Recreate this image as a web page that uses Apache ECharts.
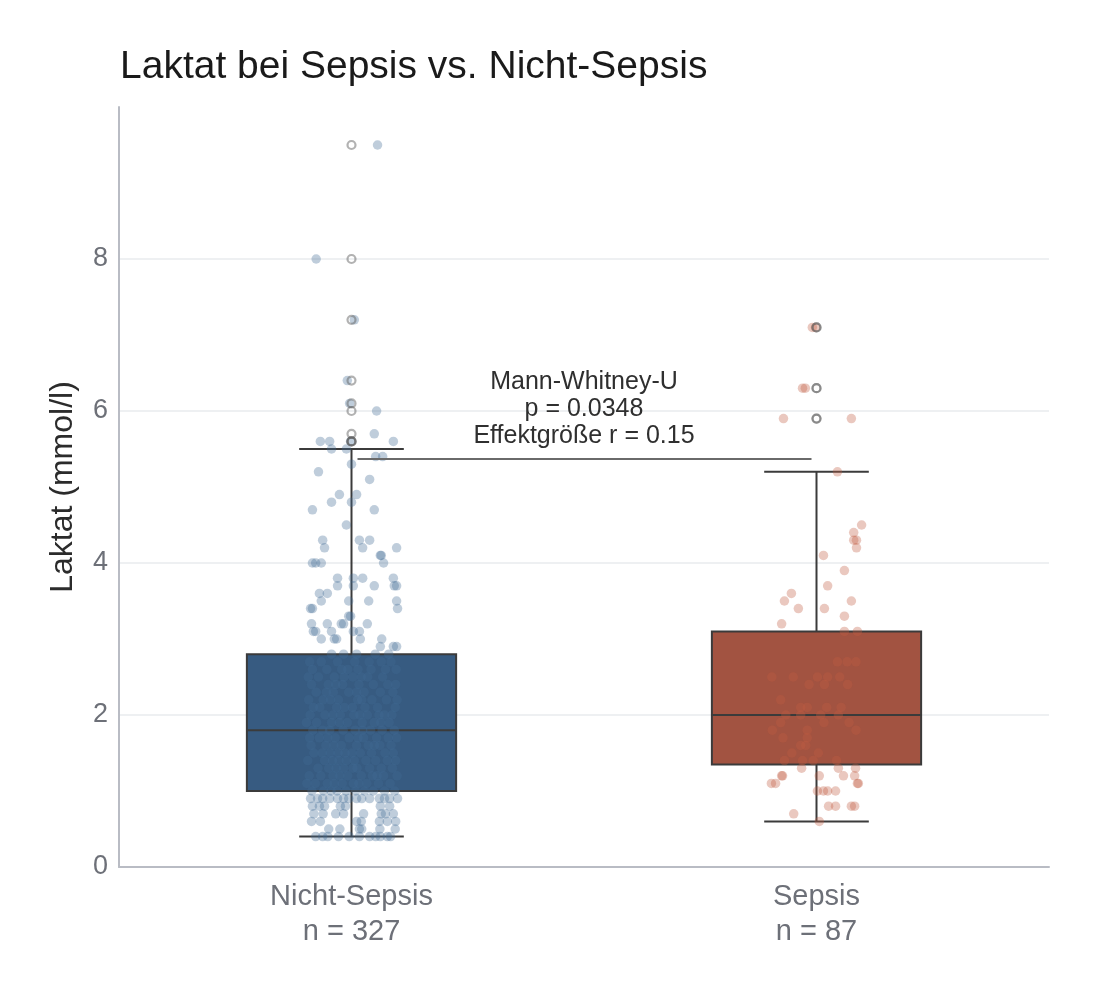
<!DOCTYPE html>
<html>
<head>
<meta charset="utf-8">
<script src="https://cdn.jsdelivr.net/npm/echarts@6/dist/echarts.min.js"></script>
<style>
    html, body { margin: 0; padding: 0; background: #fff; }
    #chart { width: 1098px; height: 996px; }
</style>
</head>
<body>
<div id="chart"></div>
<script>
// categories + group sizes
const groups = ['Nicht-Sepsis', 'Sepsis']
const groupN = [327, 87]
const yTicks = [0, 2, 4, 6, 8]

// [lower whisker, Q1, median, Q3, upper whisker]
const boxStats = [
    [0.4, 1.0, 1.8, 2.8, 5.5],
    [0.6, 1.35, 2.0, 3.1, 5.2]
]
const outliersNicht = [5.6, 5.6, 5.6, 5.7, 6.0, 6.1, 6.4, 7.2, 8.0, 9.5]
const outliersSepsis = [5.9, 5.9, 6.3, 6.3, 7.1, 7.1]

// strip points: [value, jitter offsets (category units)]
const stripNicht = [
    [9.5, [0.056]],
    [8.0, [-0.076]],
    [7.2, [0.006]],
    [6.4, [-0.009]],
    [6.1, [-0.004]],
    [6.0, [0.054]],
    [5.7, [0.049]],
    [5.6, [-0.067, -0.047, 0.090, -0.002]],
    [5.5, [-0.043, -0.011]],
    [5.4, [0.052, 0.067]],
    [5.3, [0.0]],
    [5.2, [-0.071]],
    [5.1, [0.039]],
    [4.9, [-0.026, 0.011]],
    [4.8, [-0.043, 0.0]],
    [4.7, [-0.084, 0.049]],
    [4.5, [-0.011]],
    [4.3, [-0.062, 0.017, 0.039]],
    [4.2, [-0.058, 0.024, 0.097]],
    [4.1, [0.062, 0.064]],
    [4.0, [0.069, -0.084, -0.077, -0.065]],
    [3.8, [-0.030, 0.004, 0.024, 0.090]],
    [3.7, [-0.030, 0.004, 0.049, 0.092, 0.097]],
    [3.6, [-0.069, -0.052]],
    [3.5, [-0.065, -0.006, 0.037, 0.097]],
    [3.4, [-0.088, -0.084, 0.099]],
    [3.3, [-0.006, -0.002]],
    [3.2, [-0.086, -0.052, -0.022, -0.017, 0.034]],
    [3.1, [-0.082, -0.077, -0.043, 0.004, 0.017]],
    [3.0, [-0.065, -0.037, -0.032, 0.019, 0.065]],
    [2.9, [0.062, 0.090, 0.097]],
    [2.8, [-0.043, -0.017, 0.011, 0.051, 0.080]],
    [2.7, [-0.065, -0.030, 0.007, 0.038, 0.064, -0.090, 0.085]],
    [2.6, [-0.084, -0.053, -0.021, 0.014, 0.042, 0.073, 0.096, -0.008]],
    [2.5, [-0.071, -0.037, 0.003, 0.035, 0.067, -0.093, 0.021, -0.016]],
    [2.4, [-0.086, -0.050, -0.019, 0.016, 0.047, 0.078, -0.034, 0.095]],
    [2.3, [-0.076, -0.039, -0.006, 0.027, 0.062, 0.089, -0.054, 0.011]],
    [2.2, [-0.092, -0.061, -0.028, 0.013, 0.044, 0.075, -0.045, 0.098, 0.022]],
    [2.1, [-0.068, -0.032, 0.002, 0.029, 0.056, 0.094, -0.082, -0.015]],
    [2.0, [-0.089, -0.057, -0.024, 0.005, 0.034, 0.059, 0.087, -0.040, 0.018, 0.071]],
    [1.9, [-0.075, -0.043, -0.009, 0.023, 0.049, 0.081, -0.097, -0.026, 0.063]],
    [1.8, [-0.083, -0.047, -0.018, 0.008, 0.041, 0.066, 0.092, -0.062, 0.024]],
    [1.7, [-0.069, -0.035, -0.005, 0.026, 0.054, 0.079, -0.090, 0.097, -0.051, 0.014]],
    [1.6, [-0.087, -0.055, -0.022, 0.011, 0.036, 0.061, 0.085, -0.038, 0.049]],
    [1.5, [-0.081, -0.046, -0.014, 0.019, 0.043, 0.072, -0.063, 0.090, 0.001, -0.029]],
    [1.4, [-0.094, -0.058, -0.027, 0.006, 0.031, 0.077, -0.041, 0.052, 0.095, -0.011]],
    [1.3, [-0.072, -0.049, -0.017, 0.012, 0.039, 0.064, 0.088, -0.033, 0.003]],
    [1.2, [-0.091, -0.066, -0.040, -0.008, 0.021, 0.045, 0.069, 0.098, -0.025, 0.055]],
    [1.1, [-0.078, -0.052, -0.020, 0.004, 0.033, 0.058, 0.083, -0.096, 0.016, -0.037]],
    [1.0, [-0.085, -0.060, -0.031, -0.012, 0.009, 0.028, 0.047, 0.071, 0.093, -0.044]],
    [0.9, [-0.088, -0.073, -0.062, -0.047, -0.030, -0.017, -0.006, 0.011, 0.022, 0.039, 0.060, 0.071, 0.082, 0.099]],
    [0.8, [-0.084, -0.069, -0.058, -0.024, -0.013, 0.062, 0.082]],
    [0.7, [-0.081, -0.061, -0.034, -0.017, 0.026, 0.064, 0.073, 0.090]],
    [0.6, [-0.086, -0.067, 0.011, 0.021, 0.060, 0.077, 0.095]],
    [0.5, [-0.049, -0.025, 0.017, 0.022, 0.061, 0.094]],
    [0.4, [-0.077, -0.062, -0.051, -0.028, -0.005, 0.017, 0.039, 0.052, 0.062, 0.077, 0.084]]
]
const stripSepsis = [
    [7.1, [-0.009, -0.002]],
    [6.3, [-0.030, -0.024]],
    [5.9, [-0.071, 0.075]],
    [5.2, [0.045]],
    [4.5, [0.097]],
    [4.4, [0.080]],
    [4.3, [0.080, 0.086]],
    [4.2, [0.086]],
    [4.1, [0.015]],
    [3.9, [0.060]],
    [3.7, [0.024]],
    [3.6, [-0.054]],
    [3.5, [-0.069, 0.075]],
    [3.4, [-0.039, 0.017]],
    [3.3, [0.060]],
    [3.2, [-0.075]],
    [3.1, [0.060, 0.088]],
    [2.7, [0.045, 0.066, 0.085]],
    [2.5, [-0.096, -0.050, 0.002, 0.024, 0.050]],
    [2.4, [-0.016, 0.017, 0.067]],
    [2.2, [-0.077]],
    [2.1, [-0.034, -0.020, 0.022, 0.053]],
    [2.0, [-0.066, -0.034, 0.009, 0.047]],
    [1.9, [-0.077, 0.016, 0.070]],
    [1.8, [-0.095, -0.020, 0.085]],
    [1.7, [-0.072, -0.020]],
    [1.6, [-0.034, -0.023]],
    [1.5, [-0.053, 0.004]],
    [1.4, [-0.069, -0.030, -0.007, 0.043]],
    [1.3, [-0.032, 0.047, 0.084]],
    [1.2, [-0.075, -0.073, 0.006, 0.058, 0.082]],
    [1.1, [-0.097, -0.088, 0.088, 0.090]],
    [1.0, [0.002, 0.015, 0.024, 0.041]],
    [0.8, [0.026, 0.041, 0.075, 0.082]],
    [0.7, [-0.049]],
    [0.6, [0.006]]
]

// statistical test annotation
const testLines = ['Mann-Whitney-U', 'p = 0.0348', 'Effektgröße r = 0.15']
const bracketY = 5.37

const boxColors = ['#375b81', '#a25341']
const pointColors = ['rgba(64,106,148,0.42)', 'rgba(193,91,66,0.42)']
const FONT = 'Liberation Sans, Arial, sans-serif'

function stripData(rows, g) {
    let out = []
    rows.forEach(r => r[1].forEach(off => out.push([g + off, r[0]])))
    return out
}

function renderBox(params, api) {
    const c = api.value(0)
    const lo = api.coord([c, api.value(1)])
    const q1 = api.coord([c, api.value(2)])
    const med = api.coord([c, api.value(3)])
    const q3 = api.coord([c, api.value(4)])
    const hi = api.coord([c, api.value(5)])
    const half = api.size([1, 0])[0] * 0.225
    const cap = half / 2
    const x = lo[0]
    const ln = () => ({ stroke: '#3b3b3b', lineWidth: 2 })
    return {
        type: 'group',
        children: [
            { type: 'line', shape: { x1: x, y1: lo[1], x2: x, y2: q1[1] }, style: ln() },
            { type: 'line', shape: { x1: x, y1: q3[1], x2: x, y2: hi[1] }, style: ln() },
            { type: 'line', shape: { x1: x - cap, y1: lo[1], x2: x + cap, y2: lo[1] }, style: ln() },
            { type: 'line', shape: { x1: x - cap, y1: hi[1], x2: x + cap, y2: hi[1] }, style: ln() },
            {
                type: 'rect',
                shape: { x: x - half, y: q3[1], width: half * 2, height: q1[1] - q3[1] },
                style: { fill: boxColors[params.dataIndex], stroke: '#3b3b3b', lineWidth: 2 }
            },
            { type: 'line', shape: { x1: x - half, y1: med[1], x2: x + half, y2: med[1] }, style: ln() }
        ]
    }
}

function renderBracket(params, api) {
    const a = api.coord([api.value(0), api.value(2)])
    const b = api.coord([api.value(1), api.value(2)])
    return {
        type: 'group',
        children: [
            {
                type: 'line',
                shape: { x1: a[0] + 6, y1: a[1], x2: b[0] - 5, y2: b[1] },
                style: { stroke: '#6a6a6a', lineWidth: 2 }
            },
            {
                type: 'text',
                x: (a[0] + b[0]) / 2,
                y: a[1] - 9,
                style: {
                    text: testLines.join('\n'),
                    align: 'center',
                    verticalAlign: 'bottom',
                    fontFamily: FONT,
                    fontSize: 25,
                    lineHeight: 27,
                    fill: '#2f2f2f'
                }
            }
        ]
    }
}

let myChart = echarts.init(document.getElementById('chart'))
let option = {
    animation: false,
    backgroundColor: '#fff',
    title: {
        text: 'Laktat bei Sepsis vs. Nicht-Sepsis',
        left: 115,
        top: 43,
        textStyle: { fontFamily: FONT, fontSize: 39, fontWeight: 'normal', color: '#1a1a1a' }
    },
    grid: {
        left: 119,
        right: 49,
        top: 107,
        bottom: 129,
        outerBoundsMode: 'none'
    },
    xAxis: [{
        type: 'category',
        data: groups,
        axisLine: { show: true, onZero: false, lineStyle: { color: '#b9bcc4', width: 2 } },
        axisTick: { show: false },
        splitLine: { show: false },
        axisLabel: {
            margin: 12,
            fontFamily: FONT,
            fontSize: 29,
            lineHeight: 35,
            color: '#6d7078',
            formatter: (v, i) => v + '\nn = ' + groupN[i]
        }
    }, {
        type: 'value',
        min: -0.5,
        max: 1.5,
        show: false
    }],
    yAxis: {
        type: 'value',
        min: 0,
        max: 10,
        interval: 2,
        name: 'Laktat (mmol/l)',
        nameLocation: 'middle',
        nameGap: 40,
        nameTextStyle: { fontFamily: FONT, fontSize: 32, color: '#2b2b2b' },
        axisLine: { show: true, onZero: false, lineStyle: { color: '#b9bcc4', width: 2 } },
        axisTick: { show: false },
        axisLabel: {
            margin: 11,
            fontFamily: FONT,
            fontSize: 27,
            color: '#6d7078',
            showMaxLabel: false,
            formatter: v => yTicks.includes(v) ? String(v) : ''
        },
        splitLine: { show: true, showMaxLine: false, lineStyle: { color: '#e9ebee', width: 1.5 } }
    },
    series: [{
        type: 'custom',
        name: 'box',
        xAxisIndex: 0,
        renderItem: renderBox,
        encode: { x: 0, y: [1, 2, 3, 4, 5] },
        data: boxStats.map((s, i) => [i].concat(s)),
        z: 2
    }, {
        type: 'scatter',
        xAxisIndex: 1,
        symbol: 'circle',
        symbolSize: 9.5,
        itemStyle: { color: pointColors[0] },
        data: stripData(stripNicht, 0),
        z: 3
    }, {
        type: 'scatter',
        xAxisIndex: 1,
        symbol: 'circle',
        symbolSize: 9.5,
        itemStyle: { color: pointColors[1] },
        data: stripData(stripSepsis, 1),
        z: 3
    }, {
        type: 'scatter',
        xAxisIndex: 1,
        symbol: 'circle',
        symbolSize: 8,
        itemStyle: { color: 'rgba(255,255,255,0)', borderColor: 'rgba(95,95,95,0.6)', borderWidth: 2.2 },
        data: outliersNicht.map(v => [0, v]).concat(outliersSepsis.map(v => [1, v])),
        z: 4
    }, {
        type: 'custom',
        xAxisIndex: 1,
        renderItem: renderBracket,
        data: [[0, 1, bracketY]],
        z: 5
    }]
}
myChart.setOption(option)
</script>
</body>
</html>
